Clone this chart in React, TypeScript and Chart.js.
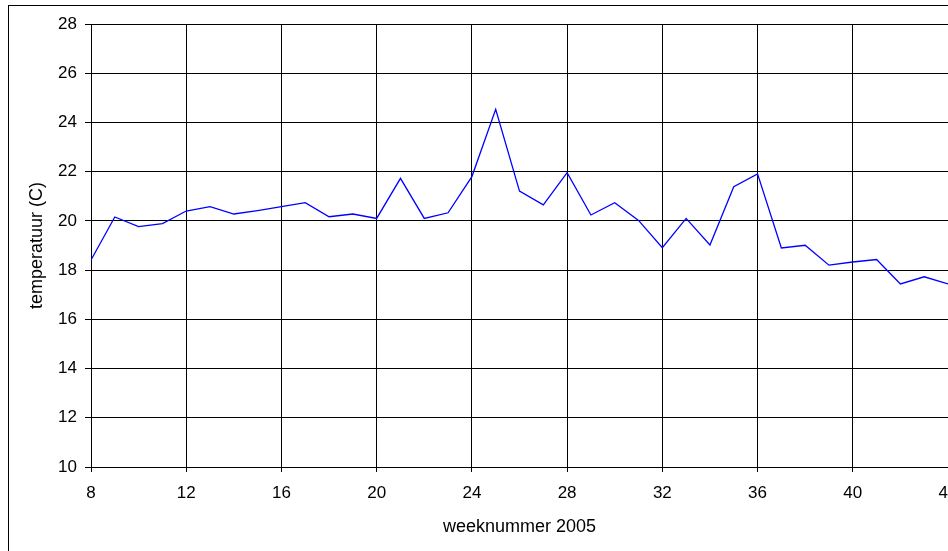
import React, { useEffect, useRef } from "react";
import { Chart, registerables } from "chart.js";

Chart.register(...registerables);

const weeks = [8, 9, 10, 11, 12, 13, 14, 15, 16, 17, 18, 19, 20, 21, 22, 23, 24, 25, 26, 27, 28, 29, 30, 31, 32, 33, 34, 35, 36, 37, 38, 39, 40, 41, 42, 43, 44];
const temperatures = [18.41, 20.16, 19.77, 19.89, 20.4, 20.58, 20.28, 20.42, 20.58, 20.74, 20.17, 20.28, 20.1, 21.73, 20.1, 20.33, 21.8, 24.53, 21.21, 20.65, 21.96, 20.24, 20.74, 20.02, 18.91, 20.1, 19.02, 21.39, 21.91, 18.9, 19.01, 18.2, 18.33, 18.43, 17.44, 17.73, 17.44];

const xMin = 8;
const xMax = 44;
const xStep = 4;
const yMin = 10;
const yMax = 28;
const yStep = 2;
const xTitle = "weeknummer 2005";
const yTitle = "temperatuur (C)";

const FONT = "Arial, 'Liberation Sans', sans-serif";
const CANVAS_W = 1000;
const CANVAS_H = 560;

const framePlugin = {
  id: "frame",
  afterDraw(chart: any) {
    const ctx = chart.ctx;
    ctx.save();
    ctx.strokeStyle = "#000";
    ctx.lineWidth = 1;
    ctx.strokeRect(0.5, 0.5, chart.width - 1, chart.height - 1);
    ctx.restore();
  },
};

export default function App() {
  const ref = useRef<HTMLCanvasElement | null>(null);

  useEffect(() => {
    if (!ref.current) return;
    const data = weeks.map((w, i) => ({ x: w, y: temperatures[i] }));
    const chart = new Chart(ref.current, {
      type: "line",
      data: {
        datasets: [
          {
            data,
            borderColor: "#0000ff",
            borderWidth: 1.3,
            pointRadius: 0,
            tension: 0,
            fill: false,
          },
        ],
      },
      plugins: [framePlugin],
      options: {
        responsive: false,
        animation: false,
        devicePixelRatio: 1,
        layout: { padding: { top: 19, right: 60, left: 0, bottom: 0 } },
        plugins: { legend: { display: false }, tooltip: { enabled: false } },
        scales: {
          x: {
            type: "linear",
            min: xMin,
            max: xMax,
            ticks: { stepSize: xStep, color: "#000", font: { family: FONT, size: 17 }, padding: 11, maxRotation: 0 },
            grid: { color: "#000", lineWidth: 1, tickLength: 5, drawTicks: true },
            border: { color: "#000", width: 1 },
            title: { display: true, text: xTitle, color: "#000", font: { family: FONT, size: 18 }, padding: { top: 0, bottom: 27 } },
            afterFit(s: any) {
              s.height = 98;
            },
          },
          y: {
            min: yMin,
            max: yMax,
            ticks: { stepSize: yStep, color: "#000", font: { family: FONT, size: 17 }, padding: 8 },
            grid: { color: "#000", lineWidth: 1, tickLength: 6, drawTicks: true },
            border: { color: "#000", width: 1 },
            title: { display: true, text: yTitle, color: "#000", font: { family: FONT, size: 18 }, padding: { top: 18, bottom: 0 } },
            afterFit(s: any) {
              s.width = 83;
            },
          },
        },
      },
    } as any);
    return () => chart.destroy();
  }, []);

  return (
    <div style={{ position: "fixed", left: 8, top: 5, width: 940, height: 546, overflow: "hidden", background: "#fff" }}>
      <canvas ref={ref} width={CANVAS_W} height={CANVAS_H} style={{ display: "block", width: CANVAS_W, height: CANVAS_H }} />
    </div>
  );
}
